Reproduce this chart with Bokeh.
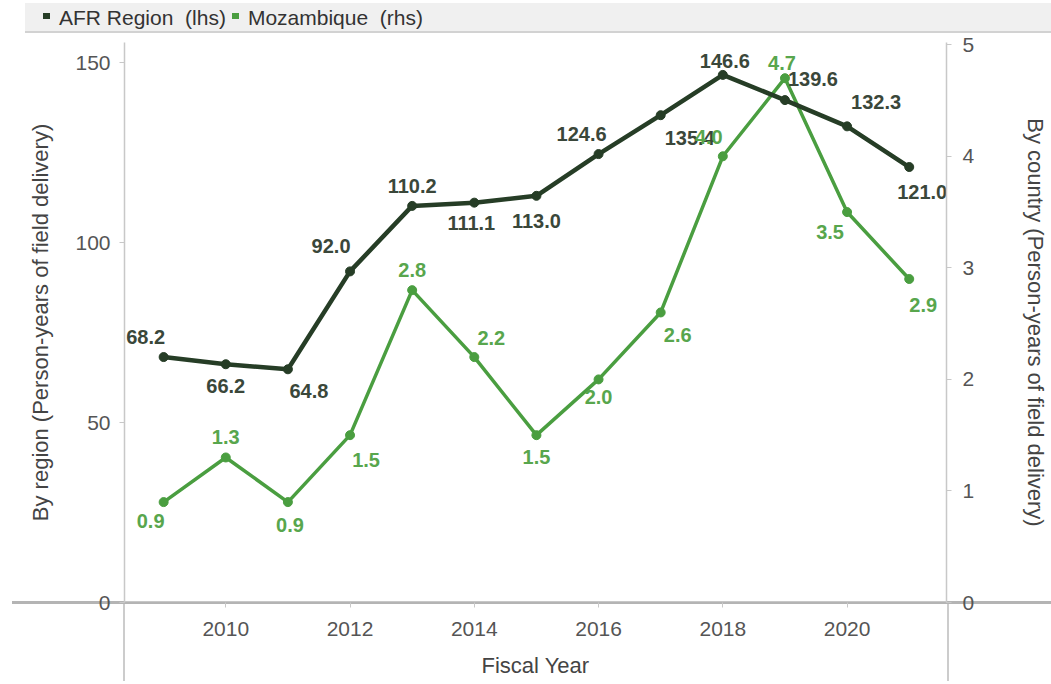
from bokeh.plotting import figure
from bokeh.layouts import column
from bokeh.models import Range1d, LinearAxis, FixedTicker, ColumnDataSource, Div
from bokeh.core.properties import value
from bokeh.embed import file_html
from bokeh.resources import INLINE

years = [2009, 2010, 2011, 2012, 2013, 2014, 2015, 2016, 2017, 2018, 2019, 2020, 2021]
afr = [68.2, 66.2, 64.8, 92.0, 110.2, 111.1, 113.0, 124.6, 135.4, 146.6, 139.6, 132.3, 121.0]
moz = [0.9, 1.3, 0.9, 1.5, 2.8, 2.2, 1.5, 2.0, 2.6, 4.0, 4.7, 3.5, 2.9]
x_ticks = [2010, 2012, 2014, 2016, 2018, 2020]
left_ticks = [0, 50, 100, 150]
right_ticks = [0, 1, 2, 3, 4, 5]
series_names = ["AFR Region  (lhs)", "Mozambique  (rhs)"]

# label placement (pixels), style only
afr_dx = [-18, 0, 21, -19, 0, -3, 0, -17, 29, 2, 28, 29, 13]
afr_dy = [-20, 22, 22, -25, -20, 20, 25, -20, 23, -14, -21, -24, 25]
moz_dx = [-13, 0, 2, 16, 0, 17, 0, 0, 17, -14, -3, -17, 14]
moz_dy = [19, -20, 23, 25, -20, -19, 22, 18, 23, -19, -15, 20, 26]

AFR_C = "#263d26"
MOZ_C = "#4a9e40"
AFR_T = "#3a473a"
MOZ_T = "#58a64d"
FONT = "Liberation Sans"

W = 1051
BAND_TOP, BAND_H = 3, 30
TOP = BAND_TOP + BAND_H     # page y where the main figure starts
H = 648
FL, FR = 124, 948
FT = 42 - TOP               # frame top inside main figure (page y 42)
FB = 602 - TOP              # frame bottom inside main figure (page y 602)

# ---- top legend band (HTML text) ----
def swatch(c):
    return (f'<span style="display:inline-block;width:7px;height:6px;background:{c};'
            f'vertical-align:middle;margin-right:9px;position:relative;top:-3px"></span>')

legend_html = (swatch(AFR_C) + f'<span style="white-space:pre">{series_names[0]}</span>'
               + '<span style="display:inline-block;width:6px"></span>'
               + swatch(MOZ_C) + f'<span style="white-space:pre">{series_names[1]}</span>')
band = Div(text=legend_html, width=W - 25, height=BAND_H, margin=(BAND_TOP, 0, 0, 25),
           styles={"background-color": "#f0f0f0", "border-bottom": "2px solid #d2d2d2",
                   "font-family": FONT, "font-size": "21px", "color": "#333333",
                   "line-height": "30px", "padding-left": "18px", "box-sizing": "border-box",
                   "overflow": "hidden"})

# extended axis rules drawn behind the transparent figure border
XL = FB
ext = (f"linear-gradient(#b4b4b4,#b4b4b4) 12px {XL - 1}px / {W - 12}px 3px no-repeat, "
       f"linear-gradient(#cccccc,#cccccc) {FL - 1}px {XL}px / 2px {H - XL}px no-repeat, "
       f"linear-gradient(#cccccc,#cccccc) {FR - 1}px {XL}px / 2px {H - XL}px no-repeat")

# ---- main chart ----
p = figure(width=W, height=H, x_range=Range1d(2008.37, 2021.6), y_range=Range1d(0, 155.6),
           output_backend="svg", toolbar_location=None,
           min_border_left=FL, min_border_right=W - FR, min_border_top=FT, min_border_bottom=H - FB,
           styles={"background": ext})
p.extra_y_ranges = {"moz": Range1d(0, 5.02)}
p.outline_line_color = None
p.xgrid.visible = False
p.ygrid.visible = False
p.background_fill_color = "white"
p.border_fill_alpha = 0

def style_axis(ax):
    ax.axis_line_color = "#c8c8c8"
    ax.axis_line_width = 1.5
    ax.major_tick_line_color = "#c8c8c8"
    ax.major_tick_out = 5
    ax.major_tick_in = 0
    ax.minor_tick_line_color = None
    ax.major_label_text_font = FONT
    ax.major_label_text_font_size = "21px"
    ax.major_label_text_color = "#555555"
    ax.axis_label_text_font = FONT
    ax.axis_label_text_font_size = "22px"
    ax.axis_label_text_font_style = "normal"
    ax.axis_label_text_color = "#444444"

xa = p.xaxis[0]
xa.ticker = FixedTicker(ticks=x_ticks)
xa.axis_label = "Fiscal Year"
style_axis(xa)
xa.axis_line_color = "#b4b4b4"
xa.axis_line_width = 2.5
xa.major_label_standoff = 14
xa.axis_label_standoff = 14

ya = p.yaxis[0]
ya.ticker = FixedTicker(ticks=left_ticks)
ya.axis_label = "By region (Person-years of field delivery)"
style_axis(ya)
ya.major_label_standoff = 9
ya.axis_label_standoff = 19

ra = LinearAxis(y_range_name="moz", ticker=FixedTicker(ticks=right_ticks),
                axis_label="By country (Person-years of field delivery)")
style_axis(ra)
ra.major_label_standoff = 11
ra.axis_label_standoff = 46
p.add_layout(ra, "right")

src = ColumnDataSource(dict(x=years, afr=afr, moz=moz,
                            afr_lbl=[f"{v:.1f}" for v in afr],
                            moz_lbl=[f"{v:.1f}" for v in moz],
                            adx=afr_dx, ady=afr_dy, mdx=moz_dx, mdy=moz_dy))

p.line("x", "moz", source=src, y_range_name="moz", line_color=MOZ_C, line_width=3.5)
p.scatter("x", "moz", source=src, y_range_name="moz", size=9, color=MOZ_C)
p.line("x", "afr", source=src, line_color=AFR_C, line_width=4.5)
p.scatter("x", "afr", source=src, size=9, color=AFR_C)

p.text("x", "afr", text="afr_lbl", source=src, x_offset="adx", y_offset="ady",
       text_align="center", text_baseline="middle", text_font=value(FONT),
       text_font_size="20px", text_font_style="bold", text_color=AFR_T)
p.text("x", "moz", text="moz_lbl", source=src, y_range_name="moz", x_offset="mdx", y_offset="mdy",
       text_align="center", text_baseline="middle", text_font=value(FONT),
       text_font_size="20px", text_font_style="bold", text_color=MOZ_T)

layout = column(band, p, spacing=0)
open("out.html", "w").write(file_html(layout, INLINE))
